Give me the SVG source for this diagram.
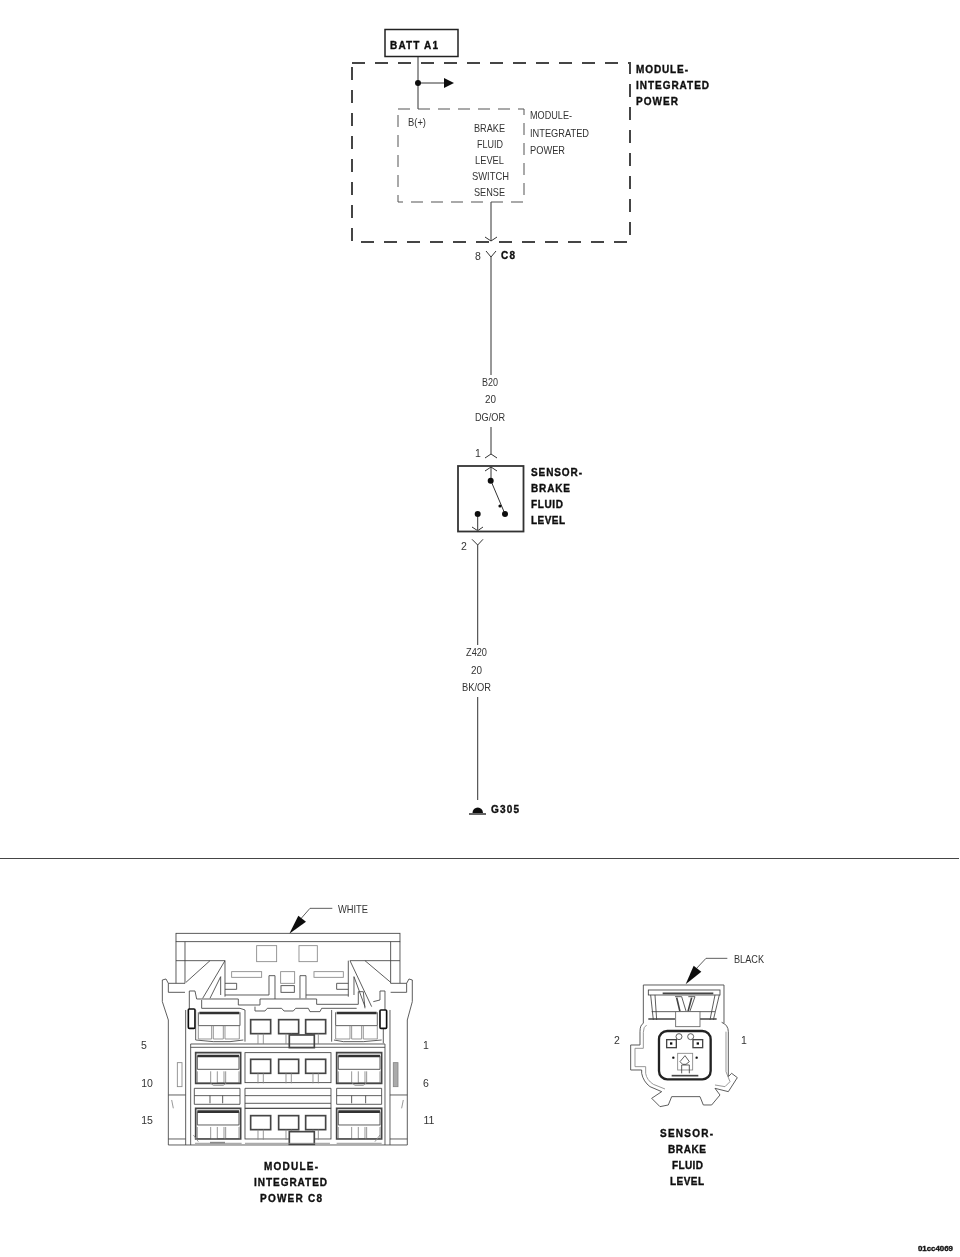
<svg xmlns="http://www.w3.org/2000/svg" xmlns:xlink="http://www.w3.org/1999/xlink" width="960" height="1257" viewBox="0 0 960 1257">
<style>
text{font-family:"Liberation Sans",Arial,sans-serif;fill:#333}
.t{font-size:11.500px}
.n{font-size:10.500px}
.b{font-size:10px;font-weight:bold;fill:#111;stroke:#111;stroke-width:0.350}
.m{text-anchor:middle}
.w{fill:none;stroke:#333;stroke-width:1}
.chev{fill:none;stroke:#333;stroke-width:1}
.dot{fill:#111}
.d1{fill:none;stroke:#444;stroke-width:2;stroke-dasharray:13 10}
.d2{fill:none;stroke:#555;stroke-width:1;stroke-dasharray:12 8}
.g{fill:none;stroke:#444;stroke-width:2.600}
.g2{fill:none;stroke:#888;stroke-width:2.600}
.k{fill:none;stroke:#444;stroke-width:5}
.h{fill:none;stroke:#333;stroke-width:8}
</style>
<defs>
<filter id="soft" x="-5%" y="-5%" width="110%" height="110%"><feGaussianBlur stdDeviation="0.400"/></filter>
<g id="cell"><rect class="k" x="0" y="0" width="60" height="42"/><path class="g2" d="M22,42V72M38,42V72"/></g>
<g id="lcell"><path class="h" d="M5,4H130"/><path class="g" d="M5,4V44H130V4"/><path class="g2" d="M5,50V85H45V50M65,50V85H85V50M90,50V85H130V50"/><path class="k" d="M0,-6H135V86H0Z"/></g>
</defs>
<g filter="url(#soft)">
<g id="connectors">
<path class="w" d="M418,56V109"/>
<path class="w" d="M418,83H446"/>
<path class="dot" d="M444,78L454,83L444,88Z"/>
<path class="w" d="M491,202V241"/>
<path class="chev" d="M485,237L491,241L497,237"/>
<path class="chev" d="M486,251L491,257L496,251"/>
<path class="w" d="M491,257V375"/>
<path class="w" d="M491,427V454"/>
<path class="chev" d="M485,458L491,454L497,458"/>
<path class="w" d="M477.700,545V645M477.700,697V800"/>
<path class="chev" d="M472,539.300L477.700,545L483,539.300"/>
</g>
<g id="batt-a1">
<rect x="385" y="29.500" width="73" height="27" fill="#fff" stroke="#222" stroke-width="1.500"/>
<text class="b" x="390" y="49" textLength="48" lengthAdjust="spacing">BATT A1</text>
</g>
<g id="module-outer">
<rect class="d1" x="352" y="63" width="278" height="179"/>
<text class="b" x="636" y="73" textLength="52" lengthAdjust="spacing">MODULE-</text>
<text class="b" x="636" y="89" textLength="73" lengthAdjust="spacing">INTEGRATED</text>
<text class="b" x="636" y="105" textLength="42" lengthAdjust="spacing">POWER</text>
<circle class="dot" cx="418" cy="83" r="3"/>
</g>
<g id="module-inner">
<rect class="d2" x="398" y="109" width="126" height="93"/>
<text class="t" x="408" y="126" textLength="18" lengthAdjust="spacingAndGlyphs">B(+)</text>
<text class="t" x="474" y="132" textLength="31" lengthAdjust="spacingAndGlyphs">BRAKE</text>
<text class="t" x="477" y="148" textLength="26" lengthAdjust="spacingAndGlyphs">FLUID</text>
<text class="t" x="475" y="164" textLength="29" lengthAdjust="spacingAndGlyphs">LEVEL</text>
<text class="t" x="472" y="180" textLength="37" lengthAdjust="spacingAndGlyphs">SWITCH</text>
<text class="t" x="474" y="196" textLength="31" lengthAdjust="spacingAndGlyphs">SENSE</text>
<text class="t" x="530" y="119" textLength="42" lengthAdjust="spacingAndGlyphs">MODULE-</text>
<text class="t" x="530" y="137" textLength="59" lengthAdjust="spacingAndGlyphs">INTEGRATED</text>
<text class="t" x="530" y="154" textLength="35" lengthAdjust="spacingAndGlyphs">POWER</text>
</g>
<g id="c8-pin">
<text class="n m" x="478" y="260">8</text>
<text class="b" x="501" y="259" textLength="14" lengthAdjust="spacing">C8</text>
</g>
<g id="wire-b20-label">
<text class="t" x="482" y="386" textLength="16" lengthAdjust="spacingAndGlyphs">B20</text>
<text class="t" x="485" y="403" textLength="11" lengthAdjust="spacingAndGlyphs">20</text>
<text class="t" x="475" y="421" textLength="30" lengthAdjust="spacingAndGlyphs">DG/OR</text>
</g>
<g id="sensor">
<text class="n m" x="478" y="457">1</text>
<rect x="458" y="466" width="65.500" height="65.500" fill="none" stroke="#333" stroke-width="1.800"/>
<path class="w" d="M491,467V481M491,481L505,514M477.700,514V530"/>
<path class="chev" d="M485,471L491,467L497,471M472,527L477.700,530.700L483,527"/>
<circle class="dot" cx="490.700" cy="480.700" r="3"/>
<circle class="dot" cx="505" cy="514" r="3"/>
<circle class="dot" cx="500" cy="506" r="1.600"/>
<circle class="dot" cx="477.700" cy="514" r="3"/>
<text class="n m" x="464" y="550">2</text>
<text class="b" x="531" y="476" textLength="51" lengthAdjust="spacing">SENSOR-</text>
<text class="b" x="531" y="492" textLength="39" lengthAdjust="spacing">BRAKE</text>
<text class="b" x="531" y="508" textLength="32" lengthAdjust="spacing">FLUID</text>
<text class="b" x="531" y="524" textLength="34" lengthAdjust="spacing">LEVEL</text>
</g>
<g id="wire-z420-label">
<text class="t" x="466" y="656" textLength="21" lengthAdjust="spacingAndGlyphs">Z420</text>
<text class="t" x="471" y="674" textLength="11" lengthAdjust="spacingAndGlyphs">20</text>
<text class="t" x="462" y="691" textLength="29" lengthAdjust="spacingAndGlyphs">BK/OR</text>
</g>
<g id="ground-g305">
<path class="dot" d="M472.500,813A5.200,5.500 0 0 1 483,813Z"/>
<path class="w" style="stroke-width:1.500" d="M469,814H486"/>
<text class="b" x="491" y="813" textLength="28" lengthAdjust="spacing">G305</text>
</g>
<path id="divider" d="M0,858.500H959" fill="none" stroke="#444" stroke-width="1"/>

<g id="connector-c8">
<text class="t" x="338" y="913" textLength="30" lengthAdjust="spacingAndGlyphs">WHITE</text>
<text class="n m" x="144" y="1049">5</text>
<text class="n m" x="426" y="1049">1</text>
<text class="n m" x="147" y="1087">10</text>
<text class="n m" x="426" y="1087">6</text>
<text class="n m" x="147" y="1124">15</text>
<text class="n m" x="429" y="1124">11</text>
<text class="b" x="264" y="1170" textLength="54" lengthAdjust="spacing">MODULE-</text>
<text class="b" x="254" y="1186" textLength="73" lengthAdjust="spacing">INTEGRATED</text>
<text class="b" x="260" y="1202" textLength="62" lengthAdjust="spacing">POWER C8</text>
<g transform="translate(130,895) scale(0.3333)">
<path class="g" d="M607,40H540L512,72"/>
<path fill="#111" d="M478,116L505,62L528,80Z"/>
<rect class="g" x="138" y="115" width="672" height="25"/>
<path class="g" d="M138,140V265M165,140V265M782,140V265M810,140V265M138,197H285M660,197H810"/>
<rect class="g2" x="380" y="152" width="60" height="48"/>
<rect class="g2" x="507" y="152" width="55" height="48"/>
<path class="g" d="M168,262L240,197M218,310L285,197M240,310L272,245V300M782,262L705,197M725,335L660,197M705,335L672,245V300"/>
<path class="g" d="M285,197V305M655,197V305"/>
<rect class="g2" x="305" y="230" width="90" height="17"/>
<rect class="g2" x="552" y="230" width="88" height="17"/>
<rect class="g2" x="452" y="230" width="42" height="35"/>
<rect class="g" x="453" y="272" width="40" height="20"/>
<path class="g" d="M417,300V242H435V312M510,310V242H528V310"/>
<path class="g" d="M285,265H320V283H285M655,265H620V283H655M285,300H417M528,300H655"/>
<path class="g" d="M115,265L108,252L97,255V320L115,375V750M165,265H115V292H165M830,265L837,252L847,255V320L832,375V750M782,265H830V292H782"/>
<path class="g" d="M178,345V288H195L200,312H325V330H390V312H560V328H685V290H700L705,340M730,320L750,315V288H765V345"/>
<path class="g" d="M215,315V340H330L345,345V440M375,335V348H405L412,340H455L462,348H490L497,340H535L540,350H570L575,340H680M605,345V440M760,345V445"/>
<rect x="175" y="342" width="20" height="58" rx="3" fill="#fff" stroke="#111" stroke-width="5"/>
<rect x="750" y="345" width="20" height="55" rx="3" fill="#fff" stroke="#111" stroke-width="5"/>
<path class="h" d="M208,354H328M620,354H740"/>
<path class="g" d="M205,352V392H330V352M617,352V392H742V352"/>
<path class="g2" d="M205,392V432H245V392M250,392V432H280V392M285,392V432H328V392M617,392V432H660V392M665,392V432H695V392M700,392V432H742V392"/>
<path class="g" d="M197,345V435L250,440H300L340,435M612,435L640,440H700L755,435"/>
<use xlink:href="#cell" href="#cell" x="362" y="374"/>
<use xlink:href="#cell" href="#cell" x="446" y="374"/>
<use xlink:href="#cell" href="#cell" x="527" y="374"/>
<rect x="478" y="420" width="75" height="38" fill="#fff" stroke="#444" stroke-width="5"/>
<g transform="translate(0,435)">
<path class="g" d="M182,12H765M182,22H765M182,12V315M167,-90V315M765,12V315M780,-90V315"/>
<use xlink:href="#lcell" href="#lcell" x="197" y="44"/>
<use xlink:href="#lcell" href="#lcell" x="620" y="44"/>
<rect class="g" x="345" y="38" width="258" height="90"/>
<use xlink:href="#cell" href="#cell" x="362" y="58"/>
<use xlink:href="#cell" href="#cell" x="446" y="58"/>
<use xlink:href="#cell" href="#cell" x="527" y="58"/>
<path class="g2" d="M240,128L250,136H280L290,128M665,128L675,136H700L710,128"/>
<rect class="g2" x="142" y="68" width="14" height="72"/>
<rect x="790" y="68" width="14" height="72" fill="#aaa" stroke="#888" stroke-width="2.600"/>
<path class="g" d="M193,145H330V193H193ZM193,167H330M240,167V190M278,167V190"/>
<path class="g" d="M345,145H603V205H345ZM345,167H603M345,190H603"/>
<path class="g" d="M620,145H755V193H620ZM620,167H755M665,167V190M707,167V190"/>
<use xlink:href="#lcell" href="#lcell" x="197" y="211"/>
<use xlink:href="#lcell" href="#lcell" x="620" y="211"/>
<rect class="g" x="345" y="205" width="258" height="92"/>
<use xlink:href="#cell" href="#cell" x="362" y="227"/>
<use xlink:href="#cell" href="#cell" x="446" y="227"/>
<use xlink:href="#cell" href="#cell" x="527" y="227"/>
<rect x="478" y="275" width="75" height="38" fill="#fff" stroke="#444" stroke-width="5"/>
<path class="g" d="M115,165H167M115,297H167M780,165H832M780,297H832M115,315H832"/>
<path class="g2" d="M125,180L130,205M820,180L815,205M190,285L205,305M750,285L735,305M195,310H335M345,310H600M620,310H755"/>
<path class="k" style="stroke:#888" d="M240,308H285"/>
</g>
</g>
</g>

<g id="connector-sensor">
<text class="t" x="734" y="963" textLength="30" lengthAdjust="spacingAndGlyphs">BLACK</text>
<text class="n m" x="617" y="1044">2</text>
<text class="n m" x="744" y="1044">1</text>
<text class="b" x="660" y="1137" textLength="53" lengthAdjust="spacing">SENSOR-</text>
<text class="b" x="668" y="1153" textLength="38" lengthAdjust="spacing">BRAKE</text>
<text class="b" x="672" y="1169" textLength="31" lengthAdjust="spacing">FLUID</text>
<text class="b" x="670" y="1185" textLength="34" lengthAdjust="spacing">LEVEL</text>
<g transform="translate(600,945) scale(0.3333)">
<path class="g" d="M382,40H318L288,72"/>
<path fill="#111" d="M257,118L281,62L304,80Z"/>
<path class="g" d="M130,235V120H372V235"/>
<rect class="g" x="145" y="135" width="215" height="15"/>
<path class="k" d="M188,145H340"/>
<path class="g" d="M152,150L160,225M165,150L170,225M358,150L340,225M345,150L330,225"/>
<path class="k" d="M230,158L240,200M275,158L264,200"/>
<path class="g" d="M245,155L258,198M285,155L270,198M225,155H245M265,155H285"/>
<path class="g" d="M155,200H345"/>
<path class="k" d="M145,222H225M300,222H350"/>
<rect x="227" y="200" width="73" height="45" fill="#fff" stroke="#666" stroke-width="2.600"/>
<path class="g" d="M130,235Q120,240 120,260V300H92V375H125V385Q130,410 150,425L185,440L155,460L180,485L205,480L215,455H300L310,480L335,480L360,450L345,430L385,440L412,398L395,385L385,395V260Q385,240 365,232"/>
<path class="g2" d="M140,240Q130,245 130,262V310H105V365H137V385Q140,405 160,418L195,432M378,260V380L390,410L375,425L345,420"/>
<rect x="177" y="258" width="155" height="145" rx="25" fill="none" stroke="#222" stroke-width="7"/>
<circle class="g" cx="237" cy="275" r="9"/>
<circle class="g" cx="272" cy="275" r="9"/>
<rect class="k" style="stroke-width:4" x="200" y="284" width="29" height="24"/>
<rect class="k" style="stroke-width:4" x="279" y="284" width="29" height="24"/>
<rect class="dot" x="210" y="292" width="7" height="7"/>
<rect class="dot" x="290" y="292" width="7" height="7"/>
<circle class="dot" cx="220" cy="338" r="3.500"/>
<circle class="dot" cx="290" cy="338" r="3.500"/>
<rect class="g2" x="233" y="325" width="45" height="50"/>
<path class="g" d="M255,332L268,350L258,358H248L240,350Z"/>
<path class="g" d="M245,385V360H268V385"/>
<path class="k" style="stroke-width:5" d="M215,392H295"/>
</g>
</g>
<text id="figure-code" class="b" x="918" y="1251" textLength="35" lengthAdjust="spacingAndGlyphs" style="font-size:7.500px">01cc4069</text>
</g>
</svg>
